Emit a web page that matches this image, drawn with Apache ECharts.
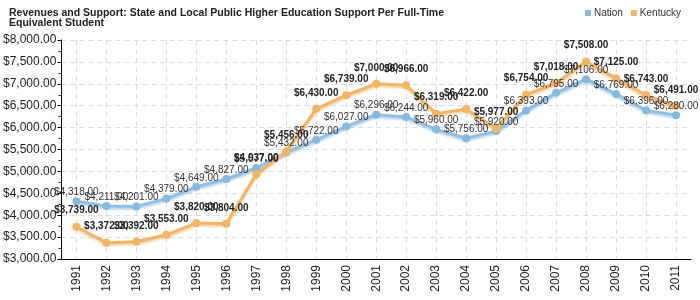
<!DOCTYPE html>
<html><head><meta charset="utf-8">
<script src="https://cdn.jsdelivr.net/npm/echarts@6/dist/echarts.min.js"></script>
<style>html,body{margin:0;padding:0;background:#fff}#c{width:700px;height:300px}</style>
</head><body><div id="c"></div>
<script>
const years = ['1991','1992','1993','1994','1995','1996','1997','1998','1999','2000','2001','2002','2003','2004','2005','2006','2007','2008','2009','2010','2011'];
const nation = [4318,4211,4201,4379,4649,4827,5077,5432,5722,6027,6296,6244,5960,5756,5920,6393,6795,7106,6769,6396,6280];
const kentucky = [3739,3372,3392,3553,3820,3804,4937,5456,6430,6739,7000,6966,6319,6422,5977,6754,7018,7508,7125,6743,6491];
const titleText = 'Revenues and Support: State and Local Public Higher Education Support Per Full-Time\nEquivalent Student';
const seriesNames = ['Nation','Kentucky'];

function money(v){
  const s = Math.round(v).toString().replace(/\B(?=(\d{3})+(?!\d))/g, ',');
  return '$' + s + '.00';
}
const FF = '"Liberation Sans", Arial, sans-serif';
const chart = echarts.init(document.getElementById('c'), null, {renderer:'canvas'});
chart.setOption({
  animation:false,
  title:{text:titleText,left:4,top:3,textStyle:{fontFamily:FF,fontSize:10.5,fontWeight:'bold',color:'#222',lineHeight:10}},
  legend:{data:seriesNames,right:14,top:3,icon:'rect',itemWidth:6,itemHeight:6,itemGap:8,
    textStyle:{fontFamily:FF,fontSize:10,color:'#333',padding:[0,0,0,-2]}},
  grid:{left:61,right:9,top:40,bottom:41},
  xAxis:{type:'category',data:years,boundaryGap:true,
    axisLine:{lineStyle:{color:'#000',width:1}},
    axisTick:{alignWithLabel:true,length:4,lineStyle:{color:'#555'}},
    axisLabel:{rotate:90,fontFamily:FF,fontSize:12,color:'#222',margin:6},
    splitLine:{show:true,alignWithLabel:true,lineStyle:{color:'#ddd',type:[5,4]}}},
  yAxis:{type:'value',min:3000,max:8000,interval:500,
    axisLine:{show:true,lineStyle:{color:'#000'}},
    axisTick:{show:true,length:4,lineStyle:{color:'#000'}},
    minorTick:{show:true,splitNumber:2,length:3,lineStyle:{color:'#c00'}},
    axisLabel:{formatter:money,fontFamily:FF,fontSize:12,color:'#222',margin:5},
    splitLine:{show:true,lineStyle:{color:'#ddd',type:[5,4]}}},
  series:[
    {name:'Nation',type:'line',data:nation,symbol:'circle',symbolSize:8,
     itemStyle:{color:'#86b9df'},
     lineStyle:{width:3,color:'#8fc0e3',shadowColor:'rgba(120,170,210,0.5)',shadowBlur:2,shadowOffsetY:2},
     label:{show:true,position:'top',distance:0,formatter:p=>money(p.value),fontFamily:FF,fontSize:10,color:'#333'}},
    {name:'Kentucky',type:'line',data:kentucky,symbol:'circle',symbolSize:8,
     itemStyle:{color:'#f3b562'},
     lineStyle:{width:3,color:'#f3b562',shadowColor:'rgba(230,170,90,0.5)',shadowBlur:2,shadowOffsetY:2},
     label:{show:true,position:'top',distance:7,formatter:p=>money(p.value),fontFamily:FF,fontSize:10,fontWeight:'bold',color:'#222'}}
  ]
});
</script></body></html>
